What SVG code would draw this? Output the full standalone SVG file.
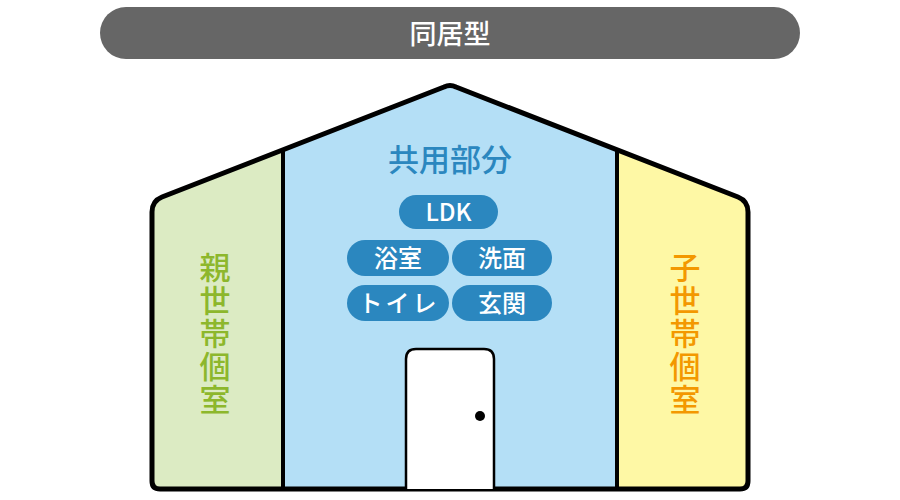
<svg xmlns="http://www.w3.org/2000/svg" width="900" height="500" viewBox="0 0 900 500">
<style>
.cjk{font-family:"Noto Sans CJK JP","Noto Sans CJK SC",sans-serif;}
.pill{fill:#2b87bf;}
.pt{fill:#ffffff;font-size:24px;font-weight:500;text-anchor:middle;}
.vt{font-size:31px;font-weight:500;text-anchor:middle;}
</style>
<defs>
<clipPath id="house">
<path d="M 444 87 Q 450 84 456 87 L 738 197 Q 748 201 748 212 L 748 481 Q 748 489 740 489 L 160 489 Q 152 489 152 481 L 152 212 Q 152 201 162 197 Z"/>
</clipPath>
</defs>
<g id="title">
<rect x="100" y="7" width="700" height="52" rx="26" fill="#666666"/>
<text class="cjk" x="450" y="44" font-size="27" font-weight="500" fill="#ffffff" text-anchor="middle">同居型</text>
</g>
<g id="house-fill" clip-path="url(#house)">
<rect x="140" y="80" width="143" height="420" fill="#dcebc3"/>
<rect x="283" y="80" width="334" height="420" fill="#b4dff6"/>
<rect x="617" y="80" width="143" height="420" fill="#fef8a5"/>
</g>
<g id="connectors">
<line x1="283" y1="148" x2="283" y2="489" stroke="#000" stroke-width="4"/>
<line x1="617" y1="148" x2="617" y2="489" stroke="#000" stroke-width="4"/>
</g>
<g id="house-outline">
<path d="M 444 87 Q 450 84 456 87 L 738 197 Q 748 201 748 212 L 748 481 Q 748 489 740 489 L 160 489 Q 152 489 152 481 L 152 212 Q 152 201 162 197 Z" fill="none" stroke="#000" stroke-width="5" stroke-linejoin="round"/>
</g>
<g id="shared">
<text class="cjk" x="450" y="171" font-size="31" font-weight="500" fill="#2b87bf" text-anchor="middle">共用部分</text>
</g>
<g id="ldk">
<rect class="pill" x="399" y="195" width="99" height="34" rx="17"/>
<text class="cjk pt" x="448.5" y="221">LDK</text>
</g>
<g id="bath">
<rect class="pill" x="347" y="240" width="102" height="36" rx="18"/>
<text class="cjk pt" x="398" y="267">浴室</text>
</g>
<g id="wash">
<rect class="pill" x="452" y="240" width="100" height="36" rx="18"/>
<text class="cjk pt" x="502" y="267">洗面</text>
</g>
<g id="toilet">
<rect class="pill" x="347" y="285" width="102" height="36" rx="18"/>
<text class="cjk pt" x="399" y="312" letter-spacing="3">トイレ</text>
</g>
<g id="entrance">
<rect class="pill" x="452" y="285" width="100" height="36" rx="18"/>
<text class="cjk pt" x="502" y="312">玄関</text>
</g>
<g id="door">
<path d="M 406 489 L 406 359 Q 406 349 416 349 L 484 349 Q 494 349 494 359 L 494 489" fill="#ffffff" stroke="#000" stroke-width="2.5"/>
<circle cx="480" cy="416" r="5" fill="#000"/>
</g>
<g id="parent">
<text class="cjk vt" fill="#8db72c"><tspan x="215" y="279">親</tspan><tspan x="215" y="312">世</tspan><tspan x="215" y="345">帯</tspan><tspan x="215" y="378">個</tspan><tspan x="215" y="411">室</tspan></text>
</g>
<g id="child">
<text class="cjk vt" fill="#f39800"><tspan x="685" y="279">子</tspan><tspan x="685" y="312">世</tspan><tspan x="685" y="345">帯</tspan><tspan x="685" y="378">個</tspan><tspan x="685" y="411">室</tspan></text>
</g>
</svg>
